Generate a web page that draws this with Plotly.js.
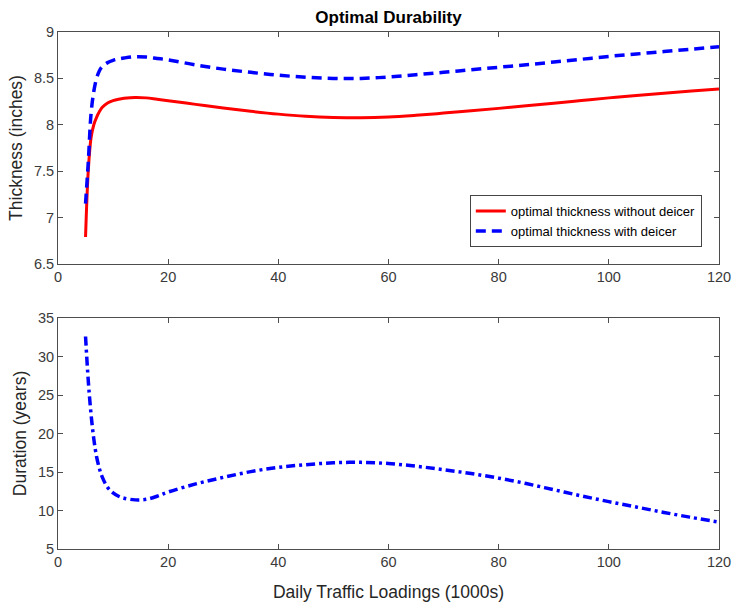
<!DOCTYPE html>
<html>
<head>
<meta charset="utf-8">
<script src="https://cdn.plot.ly/plotly-3.0.1.min.js"></script>
<style>html,body{margin:0;padding:0;background:#fff;}#chart{width:733px;height:602px;}</style>
</head>
<body>
<div id="chart"></div>
<script>
// Daily traffic loadings (1000s)
const loadings = [5, 5.5, 6, 6.5, 7, 7.5, 8, 9, 10, 11, 12, 14, 16, 18, 20, 25, 30, 35, 40, 45, 50, 55, 60, 65, 70, 75, 80, 85, 90, 95, 100, 105, 110, 115, 120];
// Optimal thickness without deicer (inches)
const thicknessNoDeicer = [6.79, 7.51, 7.86, 8.0, 8.08, 8.14, 8.185, 8.235, 8.26, 8.275, 8.285, 8.295, 8.29, 8.275, 8.26, 8.22, 8.18, 8.145, 8.115, 8.092, 8.079, 8.075, 8.083, 8.102, 8.126, 8.151, 8.177, 8.204, 8.232, 8.261, 8.29, 8.316, 8.341, 8.364, 8.385];
// Optimal thickness with deicer (inches)
const thicknessDeicer = [7.15, 7.6, 8.12, 8.36, 8.5, 8.58, 8.625, 8.67, 8.695, 8.71, 8.72, 8.733, 8.73, 8.715, 8.70, 8.645, 8.60, 8.565, 8.535, 8.512, 8.50, 8.50, 8.515, 8.54, 8.566, 8.593, 8.62, 8.647, 8.676, 8.706, 8.737, 8.763, 8.789, 8.815, 8.84];
// Duration (years)
const duration = [32.6, 26.8, 22.5, 19.3, 17.0, 15.5, 14.4, 13.0, 12.3, 11.85, 11.6, 11.38, 11.45, 11.85, 12.4, 13.45, 14.3, 15.05, 15.6, 15.95, 16.2, 16.25, 16.1, 15.75, 15.3, 14.8, 14.2, 13.5, 12.7, 11.9, 11.15, 10.45, 9.75, 9.1, 8.5];

const seriesNames = ["optimal thickness without deicer", "optimal thickness with deicer"];
const titleText = "Optimal Durability";
const xTitle = "Daily Traffic Loadings (1000s)";
const yTitleTop = "Thickness (inches)";
const yTitleBottom = "Duration (years)";

const fontFam = "Liberation Sans, Arial, sans-serif";
const axisCol = "#4d4d4d";
const tickFont = {family: fontFam, size: 14.5, color: "#3a3a3a"};
const axTitleFont = {family: fontFam, size: 17.5, color: "#262626"};

const traces = [
  {x: loadings, y: thicknessNoDeicer, name: seriesNames[0], type: "scatter", mode: "lines",
   line: {color: "#ff0000", width: 3, shape: "spline"}, xaxis: "x", yaxis: "y"},
  {x: loadings, y: thicknessDeicer, name: seriesNames[1], type: "scatter", mode: "lines",
   line: {color: "#0000ff", width: 3.5, dash: "10px,6px", shape: "spline"}, xaxis: "x", yaxis: "y"},
  {x: loadings, y: duration, name: "duration", type: "scatter", mode: "lines", showlegend: false,
   line: {color: "#0000ff", width: 3.5, dash: "9px,4px,3px,4px", shape: "spline"}, xaxis: "x2", yaxis: "y2"}
];

const xCommon = {range: [0, 120], tick0: 0, dtick: 20, ticks: "inside", ticklen: 5, tickcolor: axisCol,
  showline: true, linecolor: axisCol, linewidth: 1, mirror: "ticks", showgrid: false, zeroline: false,
  tickfont: tickFont};

const layout = {
  width: 733, height: 602,
  margin: {l: 58, r: 14, t: 32, b: 53},
  paper_bgcolor: "#fff", plot_bgcolor: "#fff",
  showlegend: true,
  title: {text: "<b>" + titleText + "</b>", x: 0.5, xref: "paper", y: 0.9718, yref: "container", yanchor: "middle",
    font: {family: fontFam, size: 17, color: "#000"}},
  xaxis: Object.assign({}, xCommon, {anchor: "y", domain: [0, 1]}),
  yaxis: {domain: [0.5513, 1], range: [6.5, 9], dtick: 0.5, tick0: 6.5, ticks: "inside", ticklen: 5,
    tickcolor: axisCol, showline: true, linecolor: axisCol, linewidth: 1, mirror: "ticks",
    showgrid: false, zeroline: false, tickfont: tickFont, anchor: "x",
    title: {text: yTitleTop, font: axTitleFont, standoff: 6}},
  xaxis2: Object.assign({}, xCommon, {anchor: "y2", domain: [0, 1],
    title: {text: xTitle, font: axTitleFont, standoff: 16}}),
  yaxis2: {domain: [0, 0.4468], range: [5, 35], dtick: 5, tick0: 5, ticks: "inside", ticklen: 5,
    tickcolor: axisCol, showline: true, linecolor: axisCol, linewidth: 1, mirror: "ticks",
    showgrid: false, zeroline: false, tickfont: tickFont, anchor: "x2",
    title: {text: yTitleBottom, font: axTitleFont, standoff: 6}},
  legend: {x: 0.974, xanchor: "right", y: 0.584, yanchor: "bottom", xref: "paper", yref: "paper",
    bgcolor: "#fff", bordercolor: "#444", borderwidth: 1,
    font: {family: fontFam, size: 13, color: "#000"}, tracegroupgap: 0, itemwidth: 30}
};

Plotly.newPlot("chart", traces, layout, {displayModeBar: false, staticPlot: true});
</script>
</body>
</html>
